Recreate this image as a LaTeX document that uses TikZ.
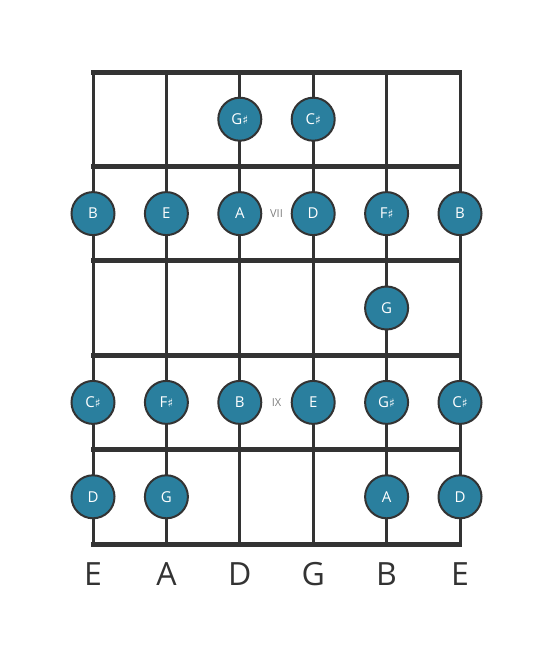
\documentclass[tikz,border=0pt]{standalone}
\usepackage{fontspec}
\usetikzlibrary{positioning}
\setmainfont{Open Sans}
\newfontfamily\symfont{DejaVu Sans}
\newcommand{\shp}{{\symfont\fontsize{12}{12}\selectfont ♯}}

\definecolor{notefill}{HTML}{2A7F9E}
\definecolor{neckline}{HTML}{333333}

\tikzset{note/.style = {circle, draw=neckline, line width=2pt, fill=notefill,
                        minimum size=43pt, inner sep=0pt, text=white,
                        font=\fontsize{15}{15}\selectfont},
         fretnum/.style = {text=gray, font=\fontsize{11}{11}\selectfont},
         strname/.style = {text=neckline, anchor=base, font=\fontsize{32}{32}\selectfont}
        }

\begin{document}
\begin{tikzpicture}[x=1pt, y=-1pt]
  \useasboundingbox (0, 0) rectangle (553, 656);
  % strings
  \foreach \i/\x in {1/93, 2/166.4, 3/239.8, 4/313.2, 5/386.6, 6/460} {
    \coordinate (top\i) at (\x, 72);
    \coordinate (bot\i) at (\x, 544);
    \draw[neckline, line width=3pt] (top\i) -- (bot\i);
  }
  % frets
  \foreach \j/\y in {0/72, 1/166.4, 2/260.8, 3/355.2, 4/449.6, 5/544} {
    \coordinate (fl\j) at (91, \y);
    \coordinate (fr\j) at (462, \y);
    \draw[neckline, line width=5pt] (fl\j) -- (fr\j);
  }

  % fret 1
  \node[note] (gs1) at (239.8, 119.2) {G\shp};
  \node[note] (cs1) at (313.2, 119.2) {C\shp};
  % fret 2
  \node[note] (b2)  at (93, 213.6)    {B};
  \node[note] (e2)  at (166.4, 213.6) {E};
  \node[note] (a2)  at (239.8, 213.6) {A};
  \node[note] (d2)  at (313.2, 213.6) {D};
  \node[note] (fs2) at (386.6, 213.6) {F\shp};
  \node[note] (bb2) at (460, 213.6)   {B};
  \node[fretnum] (vii) at (276.5, 213.6) {VII};
  % fret 3
  \node[note] (g3)  at (386.6, 308)   {G};
  % fret 4
  \node[note] (cs4) at (93, 402.4)    {C\shp};
  \node[note] (fs4) at (166.4, 402.4) {F\shp};
  \node[note] (b4)  at (239.8, 402.4) {B};
  \node[note] (e4)  at (313.2, 402.4) {E};
  \node[note] (gs4) at (386.6, 402.4) {G\shp};
  \node[note] (cc4) at (460, 402.4)   {C\shp};
  \node[fretnum] (ix) at (276.5, 402.4) {IX};
  % fret 5
  \node[note] (d5)  at (93, 496.8)    {D};
  \node[note] (g5)  at (166.4, 496.8) {G};
  \node[note] (a5)  at (386.6, 496.8) {A};
  \node[note] (dd5) at (460, 496.8)   {D};

  % string names
  \foreach \i/\n in {1/E, 2/A, 3/D, 4/G, 5/B, 6/E}
    \node[strname] (name\i) at ([yshift=-41pt] bot\i) {\n};
\end{tikzpicture}
\end{document}
